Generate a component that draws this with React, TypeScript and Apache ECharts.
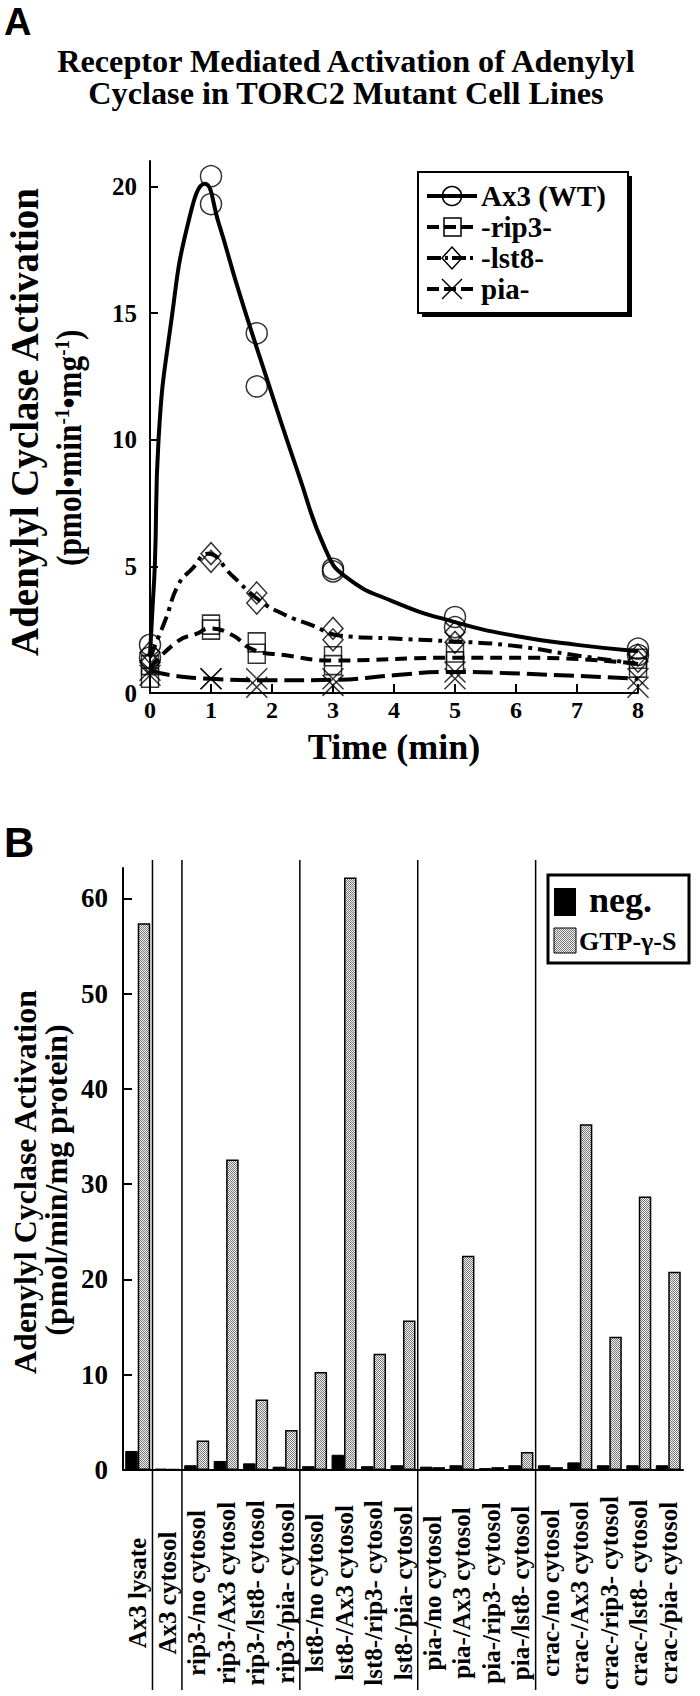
import React, { useEffect, useRef } from 'react';
import * as echarts from 'echarts';

// ---------- Panel A data ----------
const pointTimes = [0, 0, 1, 1, 1.75, 1.75, 3, 3, 5, 5, 8, 8];
const ax3Points = [1.9, 1.4, 20.4, 19.3, 14.2, 12.1, 4.9, 4.8, 3.0, 2.6, 1.75, 1.5];
const rip3Points = [1.1, 0.6, 2.7, 2.5, 2.0, 1.55, 1.45, 1.1, 1.6, 1.25, 1.35, 1.0];
const lst8Points = [1.6, 1.2, 5.5, 5.2, 3.95, 3.55, 2.55, 2.1, 2.4, 2.0, 1.5, 1.25];
const piaPoints = [0.9, 0.7, 0.56, 0.56, 0.56, 0.23, 0.56, 0.3, 0.83, 0.56, 0.56, 0.23];

const ax3CurveT = [0, 0.04, 0.08, 0.14, 0.35, 0.63, 0.9, 1.12, 1.45, 1.89, 2.44, 2.88, 3.2, 4, 5, 6, 7, 8];
const ax3CurveV = [1.5, 3.3, 5.1, 10, 14.7, 18.6, 20.1, 18.6, 15.9, 12.6, 8.6, 5.65, 4.6, 3.6, 2.8, 2.25, 1.9, 1.65];
const rip3CurveT = [0, 0.47, 0.76, 0.98, 1.34, 1.7, 2.2, 3, 4.85, 6.3, 8];
const rip3CurveV = [1.0, 2.07, 2.33, 2.55, 2.3, 1.7, 1.5, 1.28, 1.39, 1.39, 1.15];
const lst8CurveT = [0, 0.25, 0.47, 0.69, 0.95, 1.34, 1.77, 2.2, 2.66, 3.1, 4, 4.85, 5.9, 7, 8];
const lst8CurveV = [1.4, 2.87, 4.3, 4.9, 5.5, 4.65, 3.7, 3.1, 2.67, 2.27, 2.15, 2.05, 1.88, 1.48, 1.15];
const piaCurveT = [0, 0.3, 1, 2, 3, 4, 4.85, 5.9, 8];
const piaCurveV = [0.9, 0.72, 0.56, 0.5, 0.52, 0.7, 0.83, 0.78, 0.56];

const yTicksA = [0, 5, 10, 15, 20];
const legendA = ['Ax3 (WT)', '-rip3-', '-lst8-', 'pia-'];

// ---------- Panel B data ----------
const categoriesB = [
  'Ax3 lysate', 'Ax3 cytosol',
  'rip3-/no cytosol', 'rip3-/Ax3 cytosol', 'rip3-/lst8- cytosol', 'rip3-/pia- cytosol',
  'lst8-/no cytosol', 'lst8-/Ax3 cytosol', 'lst8-/rip3- cytosol', 'lst8-/pia- cytosol',
  'pia-/no cytosol', 'pia-/Ax3 cytosol', 'pia-/rip3- cytosol', 'pia-/lst8- cytosol',
  'crac-/no cytosol', 'crac-/Ax3 cytosol', 'crac-/rip3- cytosol', 'crac-/lst8- cytosol', 'crac-/pia- cytosol',
];
const negValues = [2.0, 0.15, 0.5, 0.95, 0.7, 0.35, 0.4, 1.6, 0.4, 0.5, 0.35, 0.5, 0.2, 0.5, 0.5, 0.8, 0.5, 0.5, 0.5];
const gtpValues = [57.4, 0.1, 3.1, 32.6, 7.4, 4.2, 10.3, 62.2, 12.2, 15.7, 0.3, 22.5, 0.3, 1.9, 0.3, 36.3, 14.0, 28.7, 20.8];
const groupEnds = [0, 1, 5, 9, 13];
const yTicksB = [0, 10, 20, 30, 40, 50, 60];

const SERIF = '"Liberation Serif", "Times New Roman", serif';
const SANS = '"Liberation Sans", Arial, sans-serif';

const pairs = (xs: number[], ys: number[]) => xs.map((x, i) => [x, ys[i]]);

function makeStipple(): string {
  const c = document.createElement('canvas');
  c.width = 2; c.height = 2;
  const ctx = c.getContext('2d')!;
  ctx.fillStyle = '#f4f4f4';
  ctx.fillRect(0, 0, 2, 2);
  ctx.fillStyle = '#777';
  ctx.fillRect(0, 0, 1, 1);
  ctx.fillRect(1, 1, 1, 1);
  return c.toDataURL();
}

const X_PATH = 'path://M0,0L20,20M20,0L0,20M10,0L10,0';

export default function App() {
  const ref = useRef<HTMLDivElement>(null);
  useEffect(() => {
    const el = ref.current!;
    const chart = echarts.init(el, null, { renderer: 'svg' });
    const stipple = makeStipple();
    const stippleFill: any = { image: stipple, repeat: 'repeat' };

    const markerBase = { color: 'rgba(255,255,255,0)', borderColor: '#000', borderWidth: 1.5 };
    const curves = [
      { name: legendA[0], t: ax3CurveT, v: ax3CurveV, dash: 'solid' as any },
      { name: legendA[1], t: rip3CurveT, v: rip3CurveV, dash: [12, 7] },
      { name: legendA[2], t: lst8CurveT, v: lst8CurveV, dash: [14, 6, 4, 6] },
      { name: legendA[3], t: piaCurveT, v: piaCurveV, dash: [20, 7] },
    ];
    const pts = [
      { v: ax3Points, symbol: 'circle', size: 21 },
      { v: rip3Points, symbol: 'rect', size: [17, 19] },
      { v: lst8Points, symbol: 'diamond', size: [20, 22] },
      { v: piaPoints, symbol: X_PATH, size: 21 },
    ];

    const seriesA: any[] = [];
    curves.forEach((c) => {
      seriesA.push({
        type: 'line', name: c.name, xAxisIndex: 0, yAxisIndex: 0,
        data: pairs(c.t, c.v), smooth: 0.5, showSymbol: false, symbol: 'none',
        lineStyle: { color: '#000', width: 4, type: c.dash }, z: 2,
      });
    });
    pts.forEach((p, i) => {
      seriesA.push({
        type: 'scatter', name: legendA[i] + ' data', xAxisIndex: 0, yAxisIndex: 0,
        data: pairs(pointTimes, p.v), symbol: p.symbol, symbolSize: p.size,
        itemStyle: markerBase, z: 3,
      });
    });

    const legendRows = [196, 227, 258, 289];
    const mk = { fill: 'rgba(255,255,255,0)', stroke: '#000', lineWidth: 1.5 };
    const legendGraphics: any[] = [
      { id: 'lgAshadow', type: 'rect', shape: { x: 422, y: 176, width: 210, height: 141 }, style: { fill: '#000' }, z: 50 },
      { id: 'lgAbox', type: 'rect', shape: { x: 418, y: 172, width: 210, height: 141 }, style: { fill: '#fff', stroke: '#000', lineWidth: 2 }, z: 51 },
    ];
    legendA.forEach((name, i) => {
      const y = legendRows[i];
      legendGraphics.push({
        id: 'lgAline' + i, type: 'line', shape: { x1: 427, y1: y, x2: 477, y2: y },
        style: { stroke: '#000', lineWidth: 4, lineDash: i === 0 ? null : (i === 2 ? [14, 4, 3, 4] : [12, 5]) }, z: 52,
      });
      if (i === 0) legendGraphics.push({ id: 'lgAmark0', type: 'circle', shape: { cx: 452, cy: y, r: 9.5 }, style: mk, z: 53 });
      else if (i === 1) legendGraphics.push({ id: 'lgAmark1', type: 'rect', shape: { x: 444, y: y - 9, width: 17, height: 18 }, style: mk, z: 53 });
      else if (i === 2) legendGraphics.push({ id: 'lgAmark2', type: 'polygon', shape: { points: [[452, y - 11], [462, y], [452, y + 11], [442, y]] }, style: mk, z: 53 });
      else {
        legendGraphics.push({ id: 'lgAmark3a', type: 'line', shape: { x1: 442, y1: y - 10, x2: 462, y2: y + 10 }, style: { stroke: '#000', lineWidth: 1.5 }, z: 53 });
        legendGraphics.push({ id: 'lgAmark3b', type: 'line', shape: { x1: 462, y1: y - 10, x2: 442, y2: y + 10 }, style: { stroke: '#000', lineWidth: 1.5 }, z: 53 });
      }
      legendGraphics.push({
        id: 'lgAtext' + i, type: 'text', x: 481, y, z: 54,
        style: { text: name, font: `bold 29px ${SERIF}`, fill: '#000', verticalAlign: 'middle', align: 'left' },
      });
    });

    const otherGraphics: any[] = [
      { id: 'labA', type: 'text', x: 4, y: 22, style: { text: 'A', font: `bold 38px ${SANS}`, fill: '#000', verticalAlign: 'middle' } },
      { id: 'labB', type: 'text', x: 4, y: 842, style: { text: 'B', font: `bold 42px ${SANS}`, fill: '#000', verticalAlign: 'middle' } },
      { id: 'title1', type: 'text', x: 346, y: 62, style: { text: 'Receptor Mediated Activation of Adenylyl', font: `bold 31px ${SERIF}`, fill: '#000', align: 'center', verticalAlign: 'middle' }, scaleX: 1.04 },
      { id: 'title2', type: 'text', x: 346, y: 94, style: { text: 'Cyclase in TORC2 Mutant Cell Lines', font: `bold 31px ${SERIF}`, fill: '#000', align: 'center', verticalAlign: 'middle' }, scaleX: 1.04 },
      { id: 'yA1', type: 'text', x: 24, y: 422, rotation: Math.PI / 2, style: { text: 'Adenylyl Cyclase Activation', font: `bold 39px ${SERIF}`, fill: '#000', align: 'center', verticalAlign: 'middle' } },
      { id: 'yA2', type: 'text', x: 69, y: 566, rotation: Math.PI / 2, scaleX: 0.87, style: {
        text: '(pmol•min{sup|-1}•mg{sup|-1})', font: `bold 36px ${SERIF}`, fill: '#000', align: 'left', verticalAlign: 'middle',
        rich: { sup: { font: `bold 22px ${SERIF}`, verticalAlign: 'top', fill: '#000' } },
      } },
      { id: 'yB1', type: 'text', x: 25, y: 1182, rotation: Math.PI / 2, style: { text: 'Adenylyl Cyclase Activation', font: `bold 32px ${SERIF}`, fill: '#000', align: 'center', verticalAlign: 'middle' } },
      { id: 'yB2', type: 'text', x: 56, y: 1180, rotation: Math.PI / 2, style: { text: '(pmol/min/mg protein)', font: `bold 32px ${SERIF}`, fill: '#000', align: 'center', verticalAlign: 'middle' } },
      // legend B
      { id: 'lgBbox', type: 'rect', shape: { x: 548, y: 875, width: 141, height: 88 }, style: { fill: '#fff', stroke: '#000', lineWidth: 3 }, z: 50 },
      { id: 'lgBneg', type: 'rect', shape: { x: 554, y: 888, width: 22, height: 28 }, style: { fill: '#000' }, z: 51 },
      { id: 'lgBnegT', type: 'text', x: 589, y: 900, z: 51, style: { text: 'neg.', font: `bold 36px ${SERIF}`, fill: '#000', verticalAlign: 'middle' } },
      { id: 'lgBgtp', type: 'rect', shape: { x: 554, y: 928, width: 22, height: 25 }, style: { fill: stippleFill, stroke: '#000', lineWidth: 1 }, z: 51 },
      { id: 'lgBgtpT', type: 'text', x: 579, y: 941, z: 51, style: { text: 'GTP-γ-S', font: `bold 26px ${SERIF}`, fill: '#000', verticalAlign: 'middle' } },
    ];

    const axisLineStyle = { color: '#000', width: 2 };
    const option: any = {
      animation: false,
      backgroundColor: '#fff',
      grid: [
        { left: 150, top: 161, width: 488, height: 532 },
        { left: 123, top: 868, width: 560, height: 602 },
      ],
      xAxis: [
        {
          type: 'value', gridIndex: 0, min: 0, max: 8, interval: 1,
          axisLine: { lineStyle: axisLineStyle }, splitLine: { show: false },
          axisTick: { inside: true, length: 9, lineStyle: { color: '#000', width: 2 } },
          axisLabel: { color: '#000', fontFamily: SERIF, fontWeight: 'bold', fontSize: 24, margin: 5 },
          name: 'Time (min)', nameLocation: 'middle', nameGap: 36,
          nameTextStyle: { color: '#000', fontFamily: SERIF, fontWeight: 'bold', fontSize: 36 },
        },
        {
          type: 'category', gridIndex: 1, data: categoriesB,
          axisLine: { lineStyle: axisLineStyle },
          axisTick: { inside: true, length: 7, interval: 0, lineStyle: { color: '#000', width: 1.5 } },
          axisLabel: {
            interval: 0, rotate: 90, align: 'center', verticalAlign: 'middle', margin: 123,
            color: '#000', fontFamily: SERIF, fontWeight: 'bold', fontSize: 25,
          },
        },
      ],
      yAxis: [
        {
          type: 'value', gridIndex: 0, min: 0, max: 21,
          axisLine: { show: true, lineStyle: axisLineStyle }, splitLine: { show: false },
          axisTick: { show: true, inside: true, length: 8, customValues: yTicksA, lineStyle: { color: '#000', width: 2 } },
          axisLabel: { customValues: yTicksA, color: '#000', fontFamily: SERIF, fontWeight: 'bold', fontSize: 25, margin: 13 },
        },
        {
          type: 'value', gridIndex: 1, min: 0, max: 63.2,
          axisLine: { show: true, lineStyle: axisLineStyle }, splitLine: { show: false },
          axisTick: { show: true, inside: true, length: 9, customValues: yTicksB, lineStyle: { color: '#000', width: 2 } },
          axisLabel: { customValues: yTicksB, color: '#000', fontFamily: SERIF, fontWeight: 'bold', fontSize: 27, margin: 15 },
        },
      ],
      series: [
        ...seriesA,
        {
          type: 'bar', name: 'neg.', xAxisIndex: 1, yAxisIndex: 1, data: negValues,
          barWidth: 12.5, barGap: '0%', itemStyle: { color: '#000', borderColor: '#000', borderWidth: 1 },
        },
        {
          type: 'bar', name: 'GTP-γ-S', xAxisIndex: 1, yAxisIndex: 1, data: gtpValues,
          barWidth: 12.5, barGap: '0%', itemStyle: { color: stippleFill, borderColor: '#000', borderWidth: 1.5 },
        },
      ],
      graphic: [...otherGraphics, ...legendGraphics],
    };
    chart.setOption(option);

    const xs = categoriesB.map((_, i) => chart.convertToPixel({ xAxisIndex: 1 }, i) as number);
    const band = xs[1] - xs[0];
    const seps = groupEnds.map((gi, k) => {
      const x = xs[gi] + band / 2;
      return { id: 'sep' + k, type: 'line', shape: { x1: x, y1: 860, x2: x, y2: 1690 }, style: { stroke: '#000', lineWidth: 1.5 }, z: 10 };
    });
    chart.setOption({ graphic: [...otherGraphics, ...legendGraphics, ...seps] });

    return () => chart.dispose();
  }, []);
  return <div ref={ref} style={{ position: 'absolute', left: 0, top: 0, width: 700, height: 1696 }} />;
}
